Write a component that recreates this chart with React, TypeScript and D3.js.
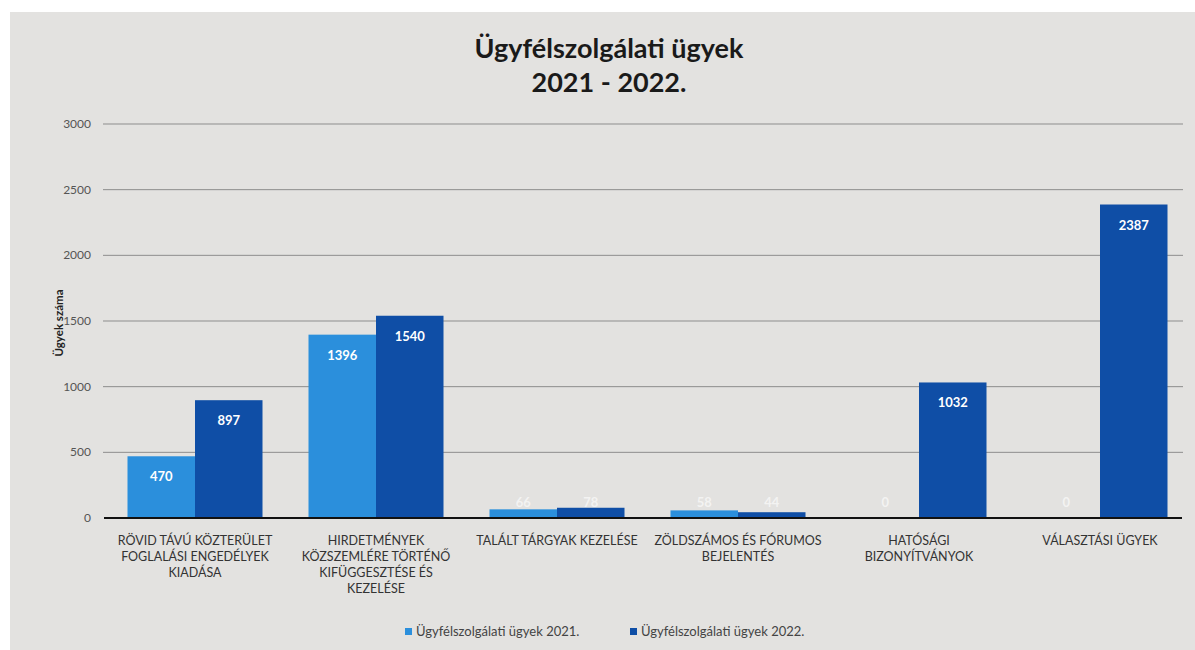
import React from "react";
import * as d3 from "d3";

const title = ["Ügyfélszolgálati ügyek", "2021 - 2022."];
const categories: string[][] = [
  ["RÖVID TÁVÚ KÖZTERÜLET", "FOGLALÁSI ENGEDÉLYEK", "KIADÁSA"],
  ["HIRDETMÉNYEK", "KÖZSZEMLÉRE TÖRTÉNŐ", "KIFÜGGESZTÉSE ÉS", "KEZELÉSE"],
  ["TALÁLT TÁRGYAK KEZELÉSE"],
  ["ZÖLDSZÁMOS ÉS FÓRUMOS", "BEJELENTÉS"],
  ["HATÓSÁGI", "BIZONYÍTVÁNYOK"],
  ["VÁLASZTÁSI ÜGYEK"],
];
const seriesNames = ["Ügyfélszolgálati ügyek 2021.", "Ügyfélszolgálati ügyek 2022."];
const values2021 = [470, 1396, 66, 58, 0, 0];
const values2022 = [897, 1540, 78, 44, 1032, 2387];
const yTicks = [0, 500, 1000, 1500, 2000, 2500, 3000];
const yTitle = "Ügyek száma";

const colors = ["#2b8fdc", "#0f4ea6"];
const font = "Lato, 'Open Sans', 'DejaVu Sans', sans-serif";

export default function App() {
  const W = 1195, H = 650;
  const left = 104.5, right = 1190.5, top = 124, bottom = 518;
  const y = d3.scaleLinear().domain([0, 3000]).range([bottom, top]);
  const x0 = d3.scaleBand<number>().domain(categories.map((_, i) => i)).range([left, right]).padding(0);
  const x1 = d3.scaleBand<number>().domain([0, 1]).range([23, x0.step() - 23]).padding(0);
  const series = [values2021, values2022];

  return (
    <svg width={W} height={H} style={{ position: "absolute", left: 0, top: 0, display: "block" }}>
      <rect x={0} y={0} width={W} height={H} fill="#ffffff" />
      <rect x={10} y={12} width={W - 10} height={H - 12} fill="#e3e2e0" />
      {title.map((t, i) => (
        <text key={i} x={609} y={58 + i * 34} textAnchor="middle" fontFamily={font} fontWeight="bold" fontSize={27} fill="#1a1a1a">{t}</text>
      ))}
      {yTicks.map((t) => (
        <g key={t}>
          {t > 0 && <line x1={103} x2={1183} y1={y(t)} y2={y(t)} stroke="#8d8d8d" strokeWidth={1} />}
          <text x={91} y={y(t) + 4} textAnchor="end" fontFamily={font} fontSize={12} fill="#555">{t}</text>
        </g>
      ))}
      <text transform={`translate(63,${(top + bottom) / 2 + 2}) rotate(-90)`} textAnchor="middle" fontFamily={font} fontWeight="bold" fontSize={11.5} fill="#222">{yTitle}</text>
      {categories.map((_, ci) => (
        <g key={ci} transform={`translate(${x0(ci)},0)`}>
          {series.map((vals, si) => {
            const v = vals[ci];
            const bx = x1(si)!;
            const bw = x1.bandwidth();
            const h = bottom - y(v);
            const short = h < 30;
            const ly = short ? bottom - 11 : y(v) + 25;
            return (
              <g key={si}>
                {v > 0 && <rect x={bx} y={y(v)} width={bw} height={h} fill={colors[si]} />}
                <text x={bx + bw / 2} y={ly} textAnchor="middle" fontFamily={font} fontWeight="bold" fontSize={13} fill="#ffffff" fillOpacity={short ? 0.6 : 1}>{v}</text>
              </g>
            );
          })}
        </g>
      ))}
      <line x1={104} x2={1182} y1={bottom} y2={bottom} stroke="#111" strokeWidth={2} />
      {categories.map((lines, ci) => (
        <text key={ci} textAnchor="middle" fontFamily={font} fontSize={12.5} fill="#333">
          {lines.map((l, li) => (
            <tspan key={li} x={x0(ci)! + x0.step() / 2} y={545 + li * 16}>{l}</tspan>
          ))}
        </text>
      ))}
      {seriesNames.map((n, i) => {
        const lx = i === 0 ? 405 : 630;
        return (
          <g key={i}>
            <rect x={lx} y={628} width={7} height={7} fill={colors[i]} />
            <text x={lx + 11} y={636} fontFamily={font} fontSize={13} fill="#444">{n}</text>
          </g>
        );
      })}
    </svg>
  );
}
